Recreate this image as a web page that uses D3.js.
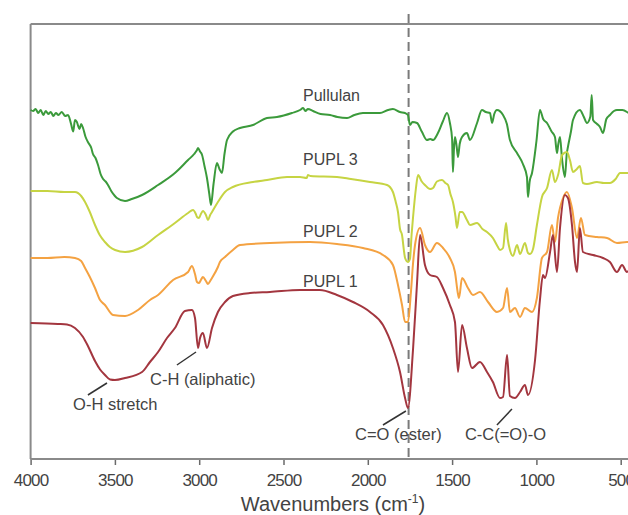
<!DOCTYPE html>
<html>
<head>
<meta charset="utf-8">
<script src="https://cdn.jsdelivr.net/npm/d3@7/dist/d3.min.js"></script>
<style>
  html, body { margin: 0; padding: 0; background: #fff; }
  svg { display: block; font-family: "Liberation Sans", Arial, sans-serif; }
</style>
</head>
<body>
<svg id="chart" width="628" height="515"></svg>
<script>
// ---- Data: [wavenumber (cm-1), transmittance (a.u., offset)] ----
const pullulan = [[4000,69.8],[3985,69.6],[3970,70.0],[3955,69.2],[3940,69.8],[3925,68.8],[3910,69.6],[3895,69.0],[3880,69.4],[3865,68.6],[3850,69.2],[3835,68.8],[3815,69.4],[3795,68.6],[3778,68.8],[3760,67.0],[3747,65.5],[3737,67.8],[3727,67.5],[3710,66.0],[3700,67.0],[3689,66.2],[3675,64.5],[3660,63.4],[3640,62.2],[3630,61.0],[3615,60.2],[3600,58.8],[3585,57.0],[3570,56.0],[3555,55.5],[3541,54.8],[3520,53.5],[3500,52.6],[3488,52.2],[3440,51.6],[3400,52.0],[3339,52.8],[3244,54.8],[3144,57.2],[3066,59.8],[3030,61.0],[3013,61.8],[3007,62.2],[2995,61.5],[2983,60.8],[2968,58.5],[2954,56.2],[2940,53.0],[2930,50.8],[2915,55.0],[2895,59.2],[2880,58.0],[2865,57.2],[2850,61.0],[2835,63.8],[2800,65.5],[2758,66.2],[2681,66.8],[2598,68.2],[2539,68.4],[2450,69.2],[2402,69.8],[2384,70.2],[2370,69.6],[2355,70.0],[2325,69.6],[2280,69.0],[2224,68.8],[2180,68.4],[2123,68.2],[2080,68.8],[2029,69.2],[1980,69.2],[1928,69.2],[1880,69.8],[1851,70.0],[1810,69.4],[1779,69.2],[1762,68.8],[1750,66.8],[1735,67.4],[1708,67.2],[1680,65.5],[1649,63.8],[1630,64.0],[1613,63.8],[1584,65.2],[1555,67.5],[1530,69.2],[1513,67.2],[1500,64.0],[1495,57.4],[1489,62.0],[1483,64.4],[1473,62.5],[1465,60.4],[1455,63.0],[1441,64.4],[1412,65.2],[1394,63.8],[1352,67.2],[1323,69.8],[1300,69.4],[1275,69.2],[1268,68.0],[1263,67.2],[1250,69.0],[1234,69.8],[1198,68.8],[1175,67.0],[1157,63.8],[1115,61.2],[1080,59.0],[1056,56.4],[1050,52.4],[1040,55.5],[1026,57.2],[1000,63.5],[979,69.8],[960,68.0],[937,67.2],[910,65.5],[890,64.4],[878,61.2],[870,63.0],[860,64.4],[848,60.0],[831,56.4],[820,61.0],[813,62.4],[795,65.5],[783,67.8],[742,69.8],[720,68.5],[700,67.2],[680,68.5],[672,72.8],[664,67.8],[640,67.0],[623,66.4],[605,65.2],[585,68.0],[564,68.8],[540,69.6],[522,69.8],[490,69.8],[463,69.4],[455,69.2]];

const pupl3 = [[4000,53.6],[3900,53.6],[3800,53.4],[3737,53.4],[3700,52.6],[3677,51.4],[3650,49.5],[3618,46.8],[3590,44.8],[3559,43.4],[3530,42.4],[3499,41.8],[3440,41.4],[3339,42.4],[3244,44.8],[3144,47.2],[3066,49.2],[3037,49.8],[3020,49.0],[3013,48.4],[3001,48.2],[2990,49.0],[2978,49.6],[2960,48.8],[2948,47.8],[2935,48.8],[2924,49.4],[2889,51.4],[2847,53.4],[2800,54.4],[2681,55.4],[2598,55.8],[2479,56.4],[2402,56.4],[2362,56.2],[2355,56.8],[2340,56.6],[2183,56.4],[2100,56.0],[1987,55.4],[1886,54.8],[1851,53.4],[1835,51.5],[1821,49.4],[1809,46.0],[1797,44.8],[1785,41.5],[1779,40.2],[1762,39.4],[1750,40.0],[1740,45.0],[1732,48.2],[1715,54.0],[1702,56.8],[1680,55.5],[1661,54.8],[1630,54.0],[1613,54.2],[1590,55.5],[1560,55.8],[1540,55.2],[1524,54.8],[1510,53.0],[1495,51.4],[1480,48.5],[1471,46.2],[1455,49.4],[1441,49.4],[1412,47.8],[1394,46.8],[1352,47.2],[1320,46.0],[1293,45.4],[1258,44.2],[1230,42.5],[1216,41.8],[1198,42.2],[1180,47.2],[1170,44.0],[1157,41.8],[1139,40.6],[1115,42.8],[1097,41.0],[1068,43.2],[1050,41.2],[1038,41.0],[1020,42.0],[997,46.8],[967,52.4],[937,54.2],[908,57.8],[890,55.4],[870,57.0],[848,60.8],[819,61.4],[801,59.8],[783,57.4],[760,58.0],[742,58.6],[724,55.2],[700,55.0],[641,55.4],[600,55.2],[564,55.2],[530,56.0],[504,57.2],[463,57.2],[455,57.2]];

const pupl2 = [[4000,40.2],[3900,40.2],[3800,40.4],[3737,40.2],[3700,39.6],[3677,38.2],[3650,36.5],[3618,34.2],[3588,31.8],[3559,30.8],[3511,28.8],[3440,28.6],[3363,29.8],[3292,31.8],[3244,32.8],[3155,35.8],[3066,37.4],[3043,38.6],[3025,37.0],[3013,35.4],[3001,35.2],[2990,35.8],[2978,36.4],[2960,35.6],[2948,35.0],[2935,35.6],[2924,36.2],[2889,38.4],[2877,39.4],[2847,40.4],[2800,41.8],[2758,42.8],[2580,43.2],[2343,43.4],[2183,43.0],[2029,42.2],[1910,40.8],[1851,38.8],[1821,34.8],[1797,30.8],[1779,27.4],[1762,27.4],[1745,33.0],[1732,39.0],[1720,42.8],[1690,46.2],[1661,42.8],[1631,41.4],[1590,43.2],[1554,42.2],[1513,40.2],[1483,37.4],[1465,33.0],[1459,32.2],[1441,36.2],[1406,34.2],[1376,32.8],[1335,33.4],[1287,31.4],[1234,29.4],[1198,30.2],[1174,34.2],[1157,29.4],[1127,30.2],[1097,28.4],[1068,30.2],[1026,29.4],[997,32.2],[967,40.2],[937,41.4],[908,46.8],[890,43.4],[872,48.2],[842,52.2],[819,53.4],[789,50.2],[759,44.2],[736,48.2],[712,44.8],[641,44.4],[581,44.2],[522,43.2],[463,43.4],[455,43.4]];

const pupl1 = [[4000,27.2],[3838,27.0],[3784,26.9],[3737,26.2],[3689,24.4],[3660,22.6],[3618,19.6],[3588,17.9],[3559,16.8],[3529,15.9],[3500,15.8],[3440,16.2],[3339,17.4],[3292,19.4],[3244,21.4],[3191,24.2],[3144,26.2],[3085,29.6],[3043,29.8],[3025,28.2],[3007,22.2],[2995,24.2],[2978,25.2],[2954,22.2],[2924,26.2],[2889,29.4],[2847,31.4],[2800,32.6],[2699,33.2],[2580,33.4],[2402,33.8],[2284,33.8],[2183,32.8],[2088,31.4],[1987,29.4],[1910,26.8],[1851,22.2],[1809,17.4],[1779,12.2],[1762,10.2],[1732,21.8],[1708,35.2],[1690,44.8],[1661,38.8],[1631,36.8],[1590,36.4],[1554,34.2],[1513,30.8],[1483,27.4],[1465,17.4],[1441,26.8],[1412,22.2],[1382,18.2],[1335,19.4],[1293,17.4],[1258,15.4],[1216,12.2],[1198,12.4],[1174,20.8],[1157,12.6],[1127,12.2],[1097,13.4],[1068,14.8],[1050,12.8],[1008,19.8],[979,31.8],[961,36.8],[949,36.2],[919,41.4],[902,44.8],[878,37.4],[860,46.2],[831,52.8],[813,52.2],[789,46.8],[771,39.4],[759,37.4],[742,46.2],[724,41.4],[664,40.8],[605,40.2],[564,39.4],[522,37.4],[492,38.8],[463,37.4],[455,37.6]];

const seriesNames  = ["Pullulan", "PUPL 3", "PUPL 2", "PUPL 1"];
const seriesColors = ["#3b9a3b", "#c6d443", "#f4a242", "#a3363f"];
const seriesLabelPos = [[2384, 71.7], [2384, 58.8], [2384, 44.4], [2384, 34.4]];

const xTicks = [4000, 3500, 3000, 2500, 2000, 1500, 1000, 500];
const carbonylLine = 1758;

const annotations = [
  { text: "O-H stretch",     at: [3748, 9.8],  from: [3660, 12.8], to: [3547, 15.2] },
  { text: "C-H (aliphatic)", at: [3292, 14.8], from: [3132, 18.8], to: [3019, 21.4] },
  { text: "C=O (ester)",     at: [2076, 3.8],  from: [1910, 6.8],  to: [1774, 9.6] },
  { text: "C-C(=O)-O",       at: [1424, 3.8],  from: [1234, 6.8],  to: [1145, 10.0] }
];

// ---- Drawing ----
const svg = d3.select("#chart");
const x = d3.scaleLinear().domain([4000, 500]).range([30.6, 620.7]);
const y = d3.scaleLinear().domain([0, 87]).range([459, 24]);
const textColor = "#434343";
const axisColor = "#8a8a8a";

// frame (top + left)
svg.append("line").attr("x1", x(4000)).attr("x2", 630).attr("y1", y(87)).attr("y2", y(87))
  .attr("stroke", axisColor).attr("stroke-width", 2);
svg.append("line").attr("x1", x(4000)).attr("x2", x(4000)).attr("y1", y(87)).attr("y2", y(0))
  .attr("stroke", axisColor).attr("stroke-width", 2);

const xAxis = d3.axisBottom(x).tickValues(xTicks).tickSizeInner(6).tickSizeOuter(0).tickPadding(9)
  .tickFormat(d3.format("d"));
const gx = svg.append("g").attr("transform", `translate(0,${y(0)})`).call(xAxis);
gx.select(".domain").remove();
svg.append("line").attr("x1", x(4000)).attr("x2", 630).attr("y1", y(0)).attr("y2", y(0))
  .attr("stroke", axisColor).attr("stroke-width", 2);
gx.selectAll(".tick line").attr("stroke", "#6a6a6a").attr("stroke-width", 1.5);
gx.selectAll(".tick text").attr("fill", textColor).attr("font-size", 17)
  .attr("letter-spacing", -0.8)
  .attr("font-family", '"Liberation Sans", Arial, sans-serif');

// axis title
const title = svg.append("text").attr("x", 333).attr("y", 511).attr("text-anchor", "middle")
  .attr("fill", textColor).attr("font-size", 20);
title.append("tspan").text("Wavenumbers (cm");
title.append("tspan").attr("font-size", 12).attr("dy", -8).text("-1");
title.append("tspan").attr("dy", 8).text(")");

// dashed reference line
svg.append("line").attr("x1", x(carbonylLine)).attr("x2", x(carbonylLine))
  .attr("y1", 14).attr("y2", y(0))
  .attr("stroke", "#7a7a7a").attr("stroke-width", 2).attr("stroke-dasharray", "9,5");

// spectra
const line = d3.line().x(d => x(d[0])).y(d => y(d[1])).curve(d3.curveMonotoneX);
const allSeries = [pullulan, pupl3, pupl2, pupl1];
allSeries.forEach((s, i) => {
  svg.append("path").datum(s).attr("d", line)
    .attr("fill", "none").attr("stroke", seriesColors[i]).attr("stroke-width", 2)
    .attr("stroke-linejoin", "round");
});

// series labels
svg.selectAll(".slabel").data(seriesNames).enter().append("text")
  .attr("class", "slabel")
  .attr("x", (d, i) => x(seriesLabelPos[i][0]))
  .attr("y", (d, i) => y(seriesLabelPos[i][1]))
  .attr("fill", textColor).attr("font-size", 16)
  .text(d => d);

// annotations
annotations.forEach(a => {
  svg.append("line")
    .attr("x1", x(a.from[0])).attr("y1", y(a.from[1]))
    .attr("x2", x(a.to[0])).attr("y2", y(a.to[1]))
    .attr("stroke", "#333").attr("stroke-width", 1.5);
  svg.append("text").attr("x", x(a.at[0])).attr("y", y(a.at[1]))
    .attr("fill", textColor).attr("font-size", 16.5).text(a.text);
});
</script>
</body>
</html>
